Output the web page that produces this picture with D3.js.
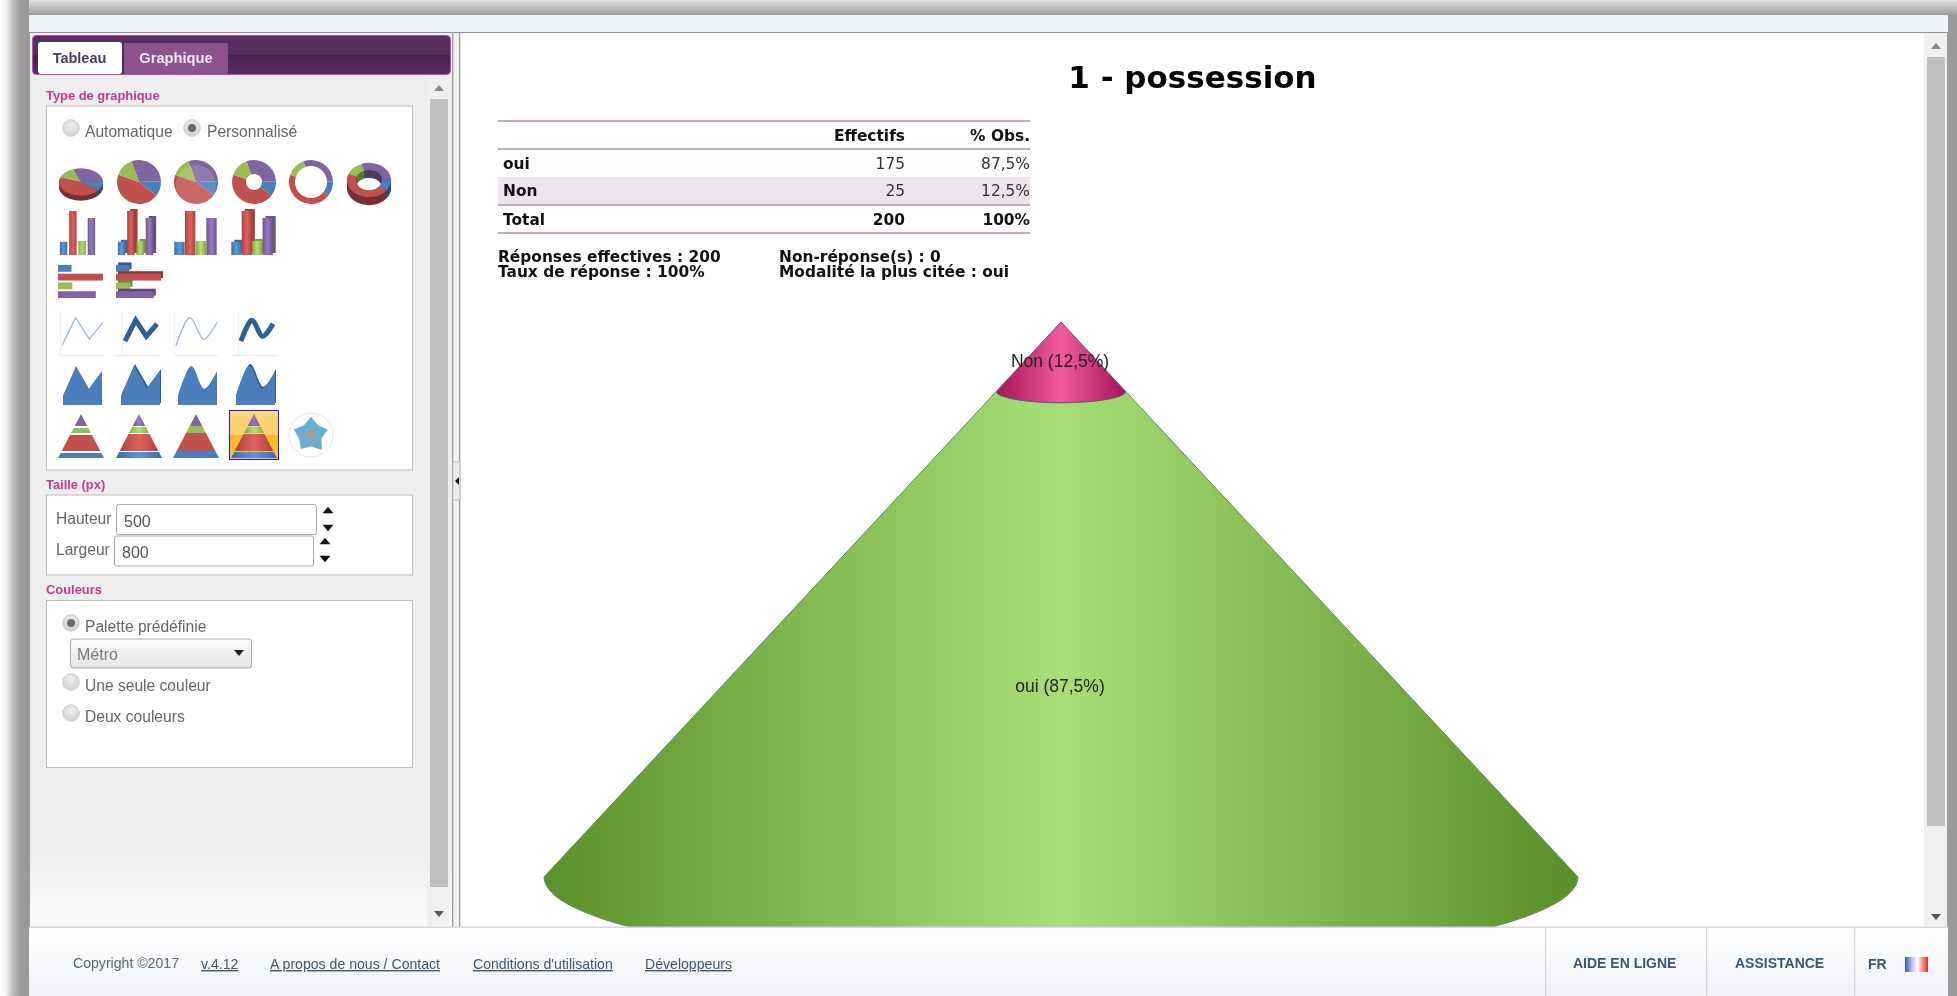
<!DOCTYPE html>
<html lang="fr"><head><meta charset="utf-8"><title>1 - possession</title>
<script src="https://cdn.jsdelivr.net/npm/d3@7"></script>
<style>html,body{margin:0;padding:0;background:#fff;overflow:hidden}svg{display:block;filter:blur(.4px)}</style>
</head><body><div id="chart"></div>
<script>
// ---- chart data
const categories = ["Non", "oui"];            // top to bottom in the cone
const effectifs = [25, 175];
const percents = ["12,5%", "87,5%"];
const tableRows = ["oui", "Non"];
const tableEffectifs = [175, 25];
const tablePercents = ["87,5%", "12,5%"];
const tableHeaders = ["Effectifs", "% Obs."];
const totalRow = ["Total", "200", "100%"];
const summaryLeft = ["Réponses effectives : 200", "Taux de réponse : 100%"];
const summaryRight = ["Non-réponse(s) : 0", "Modalité la plus citée : oui"];
const chartTitle = "1 - possession";
// ---- thumbnail data
const iconColors = ["#8064a2", "#4a7ebb", "#c0504d", "#9bbb59"];
const iconPie = [30, 11, 45, 14];
const iconBars = [30, 100, 32, 84];
const iconBarColors = ["#4a7ebb", "#c0504d", "#9bbb59", "#8064a2"];
const iconSeries = [8, 95, 28, 80];
const iconLayers = [12, 7, 18, 7];
const iconLayerColors = [0, 3, 2, 1];
const radarValues = [90, 60, 88, 55, 92, 58, 86, 62, 90, 60];

const W = 1957, H = 996, F = "'Liberation Sans',Arial,sans-serif", V = "'DejaVu Sans',Verdana,sans-serif";
const svg = d3.select("#chart").append("svg").attr("width", W).attr("height", H);
const defs = svg.append("defs");
function lin(id, stops, x2 = 0, y2 = 1) {
  const g = defs.append("linearGradient").attr("id", id).attr("x1", 0).attr("y1", 0).attr("x2", x2).attr("y2", y2);
  stops.forEach(s => g.append("stop").attr("offset", s[0]).attr("stop-color", s[1]));
}
lin("gLeft", [[0, "#fff"], [.2, "#f4f4f4"], [.45, "#bdbdbd"], [.7, "#9e9e9e"], [1, "#989898"]], 1, 0);
lin("gTop", [[0, "#e2e2e2"], [1, "#9c9c9c"]]);
lin("gGreen", [[0, "#5a9229"], [.5, "#a6df75"], [1, "#598f28"]], 1, 0);
lin("gPink", [[0, "#a31459"], [.5, "#f05aa0"], [1, "#a31459"]], 1, 0);
lin("gFoot", [[0, "#fff"], [1, "#f0f2f6"]]);
lin("gTabs", [[0, "#55305e"], [.5, "#55305e"], [.5, "#48204f"], [1, "#56305f"]]);
lin("gSide", [[0, "#eeeeee"], [1, "#fbfbfb"]]);
lin("gSel", [[0, "#fcd77f"], [.5, "#fccf6a"], [.5, "#f8b81b"], [1, "#fbc54a"]]);
lin("gSelect", [[0, "#fafafa"], [1, "#e4e4e4"]]);
lin("gFlag", [[0, "#3a55b0"], [.35, "#c9d2ee"], [.55, "#fff"], [.7, "#f2b5ae"], [1, "#df2a20"]], 1, 0);
const rg = defs.append("radialGradient").attr("id", "gRadio").attr("cx", .5).attr("cy", .35).attr("r", .7);
rg.append("stop").attr("offset", 0).attr("stop-color", "#f0f0f0");
rg.append("stop").attr("offset", 1).attr("stop-color", "#cdcdcd");
iconColors.forEach((c, i) => lin("gi" + i, [[0, d3.color(c).darker(.4)], [.5, d3.color(c).brighter(.5)], [1, d3.color(c).darker(.4)]], 1, 0));

const R = (g, x, y, w, h, fill, stroke, rx) => g.append("rect").attr("x", x).attr("y", y).attr("width", w).attr("height", h)
  .attr("fill", fill).attr("stroke", stroke || "none").attr("rx", rx || 0);
const T = (g, s, x, y, o = {}) => g.append("text").text(s).attr("x", x).attr("y", y)
  .attr("font-family", o.f || F).attr("font-size", o.s || 14).attr("font-weight", o.b ? "bold" : "normal")
  .attr("fill", o.c || "#666").attr("text-anchor", o.a || "start").attr("letter-spacing", o.ls || null)
  .attr("text-decoration", o.u ? "underline" : null);
const TRI = (g, cx, cy, up, w = 6, h = 4, c = "#666") => g.append("path").attr("fill", c)
  .attr("d", d3.line()(up ? [[cx - w, cy + h], [cx + w, cy + h], [cx, cy - h]] : [[cx - w, cy - h], [cx + w, cy - h], [cx, cy + h]]) + "Z");

// ---- page frame
R(svg, 0, 0, W, H, "#9a9a9a");
R(svg, 0, 0, W, 15, "url(#gTop)");
R(svg, 0, 0, 29, H, "url(#gLeft)");
R(svg, 29, 15, 1919, 17, "#eef1f5");
R(svg, 29, 32, 1919, 1.5, "#8f9396");
R(svg, 30, 33, 1917, 895, "#fff");

// ---- left panel
const side = svg.append("g");
R(side, 30, 33, 423, 895, "#eeeeee");
R(side, 30, 850, 423, 78, "url(#gSide)");
R(side, 453, 33, 6, 895, "#f0f0f0");
R(side, 452, 33, 1.3, 895, "#9a9a9a");
R(side, 459, 33, 1.3, 895, "#9a9a9a");
R(side, 453, 462, 7, 38, "#eee", "#bbb");
side.append("path").attr("d", "M455 481L459 477L459 485Z").attr("fill", "#111");
R(side, 32.5, 35.5, 418, 39, "url(#gTabs)", "#c24aa8", 4);
R(side, 38, 42, 84, 32, "#fff", null, 3);
R(side, 124, 43, 104, 31, "#8c528c", null, 2);
T(side, "Tableau", 79.5, 63, {s: 14.5, b: 1, c: "#4a3a60", a: "middle"});
T(side, "Graphique", 176, 63, {s: 14.7, b: 1, c: "#f0e8f4", a: "middle"});
R(side, 427, 78, 22, 849, "#f0f0f0");
R(side, 430, 99, 18, 788, "#c0c0c0");
TRI(side, 439, 88, true, 5, 3, "#888");
TRI(side, 439, 914, false, 5, 3, "#555");

const pink = "#c8398f", labelSize = 15.6;
T(side, "Type de graphique", 46, 100, {s: 12.9, b: 1, c: pink});
T(side, "Taille (px)", 46, 489, {s: 12.9, b: 1, c: pink});
T(side, "Couleurs", 46, 594, {s: 12.9, b: 1, c: pink});
[[46.5, 106, 366, 364], [46.5, 495, 366, 80], [46.5, 600.5, 366, 167]].forEach(b => R(side, b[0], b[1], b[2], b[3], "#fff", "#bdbdbd"));

function radio(x, y, on) {
  side.append("circle").attr("cx", x).attr("cy", y).attr("r", 8.3).attr("fill", "url(#gRadio)").attr("stroke", "#cfcfcf");
  if (on) side.append("circle").attr("cx", x).attr("cy", y).attr("r", 4).attr("fill", "#6a6a6a");
}
radio(71, 128, false); T(side, "Automatique", 85, 137, {s: labelSize});
radio(192, 128, true); T(side, "Personnalisé", 207, 137, {s: labelSize});
T(side, "Hauteur", 56, 524, {s: labelSize});
T(side, "Largeur", 56, 555, {s: labelSize});
R(side, 116.5, 504.5, 200, 30, "#fff", "#aaa", 2);
R(side, 114.5, 536, 199, 30, "#fff", "#aaa", 2);
T(side, "500", 124, 527, {s: 16, c: "#555"});
T(side, "800", 122, 558, {s: 16, c: "#555"});
TRI(side, 328, 510, true, 5.5, 3.2, "#111"); TRI(side, 328, 528, false, 5.5, 3.2, "#111");
TRI(side, 325, 541, true, 5.5, 3.2, "#111"); TRI(side, 325, 559, false, 5.5, 3.2, "#111");
radio(71, 623, true); T(side, "Palette prédéfinie", 85, 632, {s: labelSize});
R(side, 70.5, 639, 181, 29, "url(#gSelect)", "#aaa", 3);
T(side, "Métro", 77, 660, {s: 16, c: "#777"});
TRI(side, 239, 653, false, 5, 3, "#222");
radio(71, 682, false); T(side, "Une seule couleur", 85, 691, {s: labelSize});
radio(71, 713, false); T(side, "Deux couleurs", 85, 722, {s: labelSize});

// ---- thumbnails
const icons = svg.append("g");
function pieIcon(cx, cy, inner, sy, thick, gloss) {
  const g = icons.append("g").attr("transform", `translate(${cx},${cy}) scale(1,${sy})`);
  const arcs = d3.pie().sort(null).startAngle(-.35).endAngle(2 * Math.PI - .35)(iconPie);
  const arc = d3.arc().innerRadius(inner).outerRadius(22);
  for (let k = thick; k > 0; k--) {
    const s = g.append("g").attr("transform", `translate(0,${k / sy})`);
    s.selectAll("path").data(arcs).join("path").attr("d", arc).attr("fill", (d, i) => d3.color(iconColors[i]).darker(1.4));
  }
  g.selectAll("path.t").data(arcs).join("path").attr("class", "t").attr("d", arc).attr("fill", (d, i) => iconColors[i]);
  if (gloss) g.append("circle").attr("r", 20).attr("cy", 3).attr("fill", "#fff").attr("opacity", .14);
}
pieIcon(81, 182, 0, .62, 5, false);
pieIcon(139, 182, 0, 1, 0, false);
pieIcon(196, 182, 0, 1, 0, true);
pieIcon(254, 182, 8, 1, 0, false);
pieIcon(311, 182, 16, 1, 0, false);
pieIcon(369, 180, 13, .78, 8, false);

function barsIcon(x0, w, mode) {
  const xs = d3.scaleBand().domain(d3.range(iconBars.length)).range([x0, x0 + w]).padding(mode < 2 ? .2 : .03);
  const ys = d3.scaleLinear().domain([0, 100]).range([255, 211]);
  const g = icons.append("g");
  iconBars.forEach((v, i) => {
    const idx = iconColors.indexOf(iconBarColors[i]);
    if (mode % 2) R(g, xs(i) + 3, ys(v) - 2, xs.bandwidth(), 255 - ys(v), d3.color(iconBarColors[i]).darker(.6));
    R(g, xs(i), ys(v), xs.bandwidth(), 255 - ys(v), "url(#gi" + idx + ")");
  });
}
barsIcon(58, 39, 0); barsIcon(116, 39, 1); barsIcon(174, 43, 2); barsIcon(231, 42, 3);

function hbarsIcon(x0, w, deep) {
  const ys = d3.scaleBand().domain(d3.range(iconBars.length)).range([263, 300]).padding(.22);
  const xs = d3.scaleLinear().domain([0, 100]).range([x0, x0 + w]);
  iconBars.forEach((v, i) => {
    if (deep) R(icons, x0 + 2, ys(i) - 2.5, xs(v) - x0, ys.bandwidth(), d3.color(iconBarColors[i]).darker(1));
    R(icons, x0, ys(i), xs(v) - x0, ys.bandwidth(), iconBarColors[i]);
  });
}
hbarsIcon(58, 45, false); hbarsIcon(116, 45, true);

function lineIcon(x0, curve, deep) {
  const xs = d3.scalePoint().domain(d3.range(iconSeries.length)).range(deep ? [x0 + 9, x0 + 41] : [x0 + 2, x0 + 43]);
  const ys = d3.scaleLinear().domain([0, 100]).range(deep ? [343, 319] : [348, 316]);
  const g = icons.append("g");
  R(g, x0, 355, 44, .8, "#e6e6e6"); R(g, x0 + (deep ? 6 : 0), 312, .8, 44, "#eeeeee");
  const l = d3.line().x((d, i) => xs(i)).y(d => ys(d)).curve(curve);
  g.append("path").attr("d", l(iconSeries)).attr("fill", "none")
    .attr("stroke", deep ? "#2f5f94" : "#9db9dc").attr("stroke-width", deep ? 5 : 1.3);
}
lineIcon(60, d3.curveLinear, false); lineIcon(116, d3.curveLinear, true);
lineIcon(174, d3.curveCardinal, false); lineIcon(232, d3.curveCardinal, true);

function areaIcon(x0, curve, deep) {
  const xs = d3.scalePoint().domain(d3.range(iconSeries.length)).range([x0 + 3, x0 + 42]);
  const ys = d3.scaleLinear().domain([-20, 95]).range([405, 366]);
  const a = d3.area().x((d, i) => xs(i)).y0(405).y1(d => ys(d)).curve(curve);
  if (deep) icons.append("path").attr("d", a(iconSeries)).attr("fill", "#2f5f94").attr("transform", "translate(1,-2)");
  icons.append("path").attr("d", a(iconSeries)).attr("fill", "#4a7ebb");
}
areaIcon(60, d3.curveLinear, false); areaIcon(118, d3.curveLinear, true);
areaIcon(175, d3.curveCardinal, false); areaIcon(233, d3.curveCardinal, true);

R(icons, 229.5, 410.5, 49, 49, "url(#gSel)", "#1a1aee");
function pyramidIcon(cx, gap, fills) {
  const sum = d3.sum(iconLayers);
  const ys = d3.scaleLinear().domain([0, sum]).range([414, 458]);
  const hAt = v => 23 * (v / sum);
  let acc = 0;
  iconLayers.forEach((v, i) => {
    const a = acc + (i ? gap : 0), b = acc + v;
    icons.append("path").attr("fill", fills(iconLayerColors[i]))
      .attr("d", d3.line()([[cx - hAt(a), ys(a)], [cx + hAt(a), ys(a)], [cx + hAt(b), ys(b)], [cx - hAt(b), ys(b)]]) + "Z");
    acc = b;
  });
}
pyramidIcon(81, 2, i => iconColors[i]);
pyramidIcon(139, 1, i => "url(#gi" + i + ")");
pyramidIcon(196, 0, i => iconColors[i]);
pyramidIcon(254, 1, i => "url(#gi" + i + ")");
const radarG = icons.append("g").attr("transform", "translate(311,435)");
radarG.append("circle").attr("r", 22).attr("fill", "#fff").attr("stroke", "#e8e8e8");
const rr = d3.scaleLinear().domain([0, 100]).range([0, 20]);
radarG.append("path").attr("fill", "#69aed0")
  .attr("d", d3.lineRadial().angle((d, i) => i / radarValues.length * 2 * Math.PI).radius(d => rr(d)).curve(d3.curveLinearClosed)(radarValues));
radarG.append("path").attr("fill", "#b79a78").attr("opacity", .7)
  .attr("d", d3.lineRadial().angle((d, i) => i * 2.4).radius(d => rr(d) * .6).curve(d3.curveLinearClosed)(radarValues.slice(0, 5)));

// ---- main scrollbar
const main = svg.append("g");
R(main, 1924, 33, 23, 895, "#f0f0f0");
R(main, 1927, 57, 18, 769, "#c0c0c0");
TRI(main, 1936, 46, true, 5, 3, "#888");
TRI(main, 1936, 917, false, 5, 3, "#555");

// ---- title, table
T(main, chartTitle, 1192.5, 88, {f: V, s: 31, b: 1, c: "#000", a: "middle"});
const tX0 = 498, tX1 = 1030, cEff = 905, cObs = 1030, tc = "#111", ts = 15.4;
R(main, tX0, 177, tX1 - tX0, 28, "#efe3ec");
[121, 149, 205, 233].forEach(y => R(main, tX0, y - .8, tX1 - tX0, 1.6, "#b394b4"));
T(main, tableHeaders[0], cEff, 141, {f: V, s: ts, b: 1, c: tc, a: "end"});
T(main, tableHeaders[1], cObs, 141, {f: V, s: ts, b: 1, c: tc, a: "end"});
const rowY = d3.scalePoint().domain(tableRows).range([169, 196]);
tableRows.forEach((r, i) => {
  T(main, r, 503, rowY(r), {f: V, s: ts, b: 1, c: tc});
  T(main, tableEffectifs[i], cEff, rowY(r), {f: V, s: ts, c: "#333", a: "end"});
  T(main, tablePercents[i], cObs, rowY(r), {f: V, s: ts, c: "#333", a: "end"});
});
T(main, totalRow[0], 503, 225, {f: V, s: ts, b: 1, c: tc});
T(main, totalRow[1], cEff, 225, {f: V, s: ts, b: 1, c: tc, a: "end"});
T(main, totalRow[2], cObs, 225, {f: V, s: ts, b: 1, c: tc, a: "end"});
summaryLeft.forEach((s, i) => T(main, s, 498, 262 + i * 15, {f: V, s: ts, b: 1, c: tc}));
summaryRight.forEach((s, i) => T(main, s, 779, 262 + i * 15, {f: V, s: ts, b: 1, c: tc}));

// ---- cone, driven by the data
const total = d3.sum(effectifs);
const yCone = d3.scaleLinear().domain([0, total]).range([322, 877]);
const rCone = d3.scaleLinear().domain([0, total]).range([0, 517]);
const cx = 1061, squash = .175;
defs.append("clipPath").attr("id", "plot").append("rect").attr("x", 461).attr("y", 33).attr("width", 1463).attr("height", 894);
const cone = svg.append("g").attr("clip-path", "url(#plot)");
let cum = 0;
const segs = categories.map((c, i) => { const s = {c, from: cum, to: cum + effectifs[i], p: percents[i]}; cum = s.to; return s; });
const segPath = s => {
  const r0 = rCone(s.from), r1 = rCone(s.to), y0 = yCone(s.from), y1 = yCone(s.to);
  const top = r0 > 0 ? `L${cx + r0},${y0}A${r0},${r0 * squash} 0 0 1 ${cx - r0},${y0}` : `L${cx},${y0}`;
  return `M${cx - r1},${y1}A${r1},${r1 * squash} 0 0 0 ${cx + r1},${y1}${top}Z`;
};
cone.selectAll("path.seg").data(segs.slice().reverse()).join("path").attr("class", "seg").attr("d", segPath)
  .attr("fill", d => d.c === "oui" ? "url(#gGreen)" : "url(#gPink)")
  .attr("stroke", d => d.c === "oui" ? "#5f8a66" : "#6d4f86").attr("stroke-width", 1);
const labelShift = {Non: 10, oui: 57.5};
cone.selectAll("text.lab").data(segs).join("text").attr("class", "lab")
  .attr("x", cx - 1).attr("y", d => yCone((d.from + d.to) / 2) + labelShift[d.c])
  .attr("text-anchor", "middle").attr("font-family", F).attr("font-size", 17.5).attr("fill", "#222")
  .text(d => `${d.c} (${d.p})`);

// ---- footer
const foot = svg.append("g");
R(foot, 29, 927, 1919, 69, "url(#gFoot)");
R(foot, 29, 926.5, 1919, 1.5, "#d8d8d8");
[1545, 1706, 1854].forEach(x => R(foot, x, 928, 1.2, 68, "#d4d4d4"));
const fc = "#3c5770", fs = 14.1;
T(foot, "Copyright ©2017", 73, 968, {s: fs, c: "#5b6670"});
[["v.4.12", 201], ["A propos de nous / Contact", 270], ["Conditions d'utilisation", 473], ["Développeurs", 645]]
  .forEach(d => T(foot, d[0], d[1], 969, {s: fs, c: fc, u: 1}));
T(foot, "AIDE EN LIGNE", 1573, 968, {s: 14, b: 1, c: fc});
T(foot, "ASSISTANCE", 1735, 968, {s: 14, b: 1, c: fc});
T(foot, "FR", 1868, 969, {s: 14, b: 1, c: fc});
R(foot, 1905, 957, 23, 15, "url(#gFlag)");
</script></body></html>
